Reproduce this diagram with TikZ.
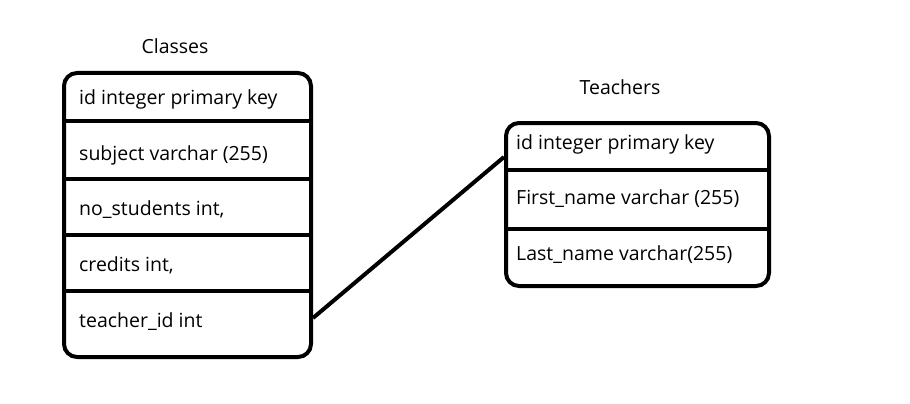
\documentclass[tikz,border=0pt]{standalone}
\usepackage{fontspec}
\setmainfont{Open Sans}
\begin{document}
\begin{tikzpicture}[x=1pt,y=-1pt,
  tbl/.style={draw=black,line width=4pt,rounded corners=13pt,inner sep=0pt,anchor=north west},
  sep/.style={draw=black,line width=4pt},
  fld/.style={anchor=base west,inner sep=0pt,font=\fontsize{19.5}{23}\selectfont},
  ttl/.style={anchor=base,inner sep=0pt,font=\fontsize{19.5}{23}\selectfont},
  link/.style={draw=black,line width=4pt}]
\useasboundingbox[fill=white] (0,0) rectangle (910,404);
% Classes table
\node[tbl,minimum width=247pt,minimum height=284pt] (classes) at (62,71) {};
\draw[sep] (62,121) -- (309,121);
\draw[sep] (62,179) -- (309,179);
\draw[sep] (62,235) -- (309,235);
\draw[sep] (62,291) -- (309,291);
\node[ttl] (ctitle) at (175,53) {Classes};
\node[fld] (cid) at (79,104) {id integer primary key};
\node[fld] (csub) at (79,160) {subject varchar (255)};
\node[fld] (cno) at (79,215) {no\_students int,};
\node[fld] (ccr) at (79,271) {credits int,};
\node[fld] (ctid) at (79,327) {teacher\_id int};
% Teachers table
\node[tbl,minimum width=263pt,minimum height=163pt] (teachers) at (504,121) {};
\draw[sep] (504,170) -- (767,170);
\draw[sep] (504,229) -- (767,229);
\node[ttl] (ttitle) at (620,95) {Teachers};
\node[fld] (tid) at (516,149) {id integer primary key};
\node[fld] (tfn) at (516,204) {First\_name varchar (255)};
\node[fld] (tln) at (516,260) {Last\_name varchar(255)};
% relation
\draw[link] ([yshift=-103pt]classes.east) -- ([yshift=47.5pt]teachers.west);
\end{tikzpicture}
\end{document}
